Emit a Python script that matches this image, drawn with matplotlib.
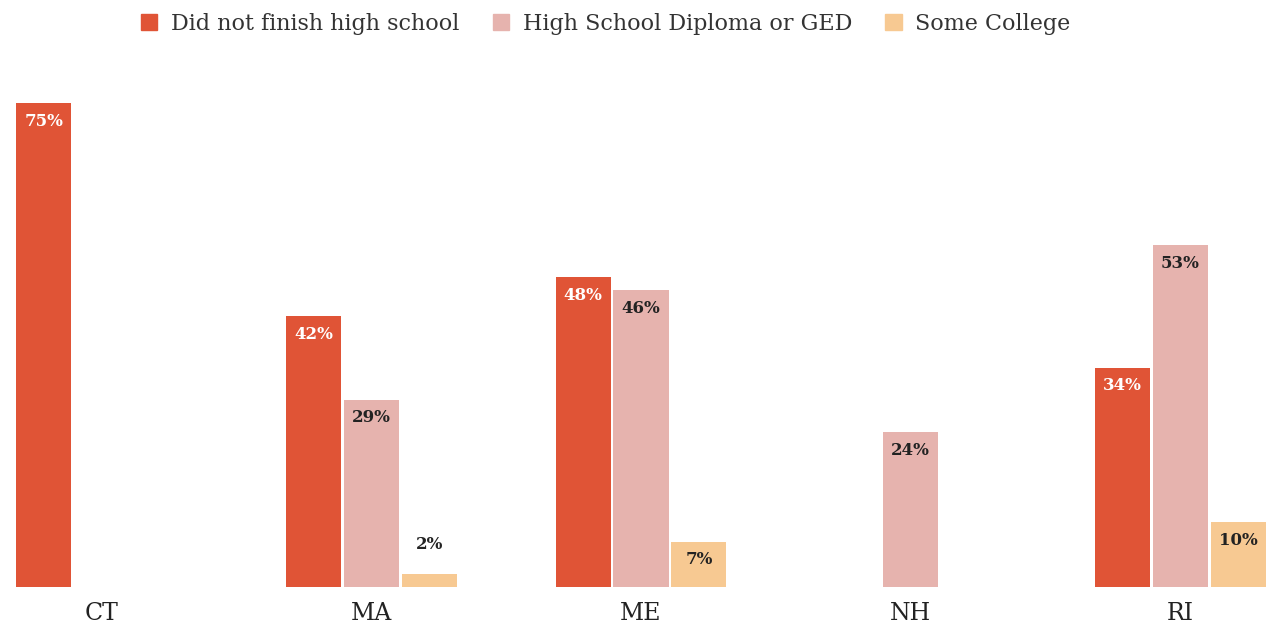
import numpy as np
import matplotlib.pyplot as plt
from matplotlib.patches import Patch

states = ["CT", "MA", "ME", "NH", "RI"]
series = ["Did not finish high school", "High School Diploma or GED", "Some College"]
did_not_finish = [75, 42, 48, None, 34]
hs_diploma = [None, 29, 46, 24, 53]
some_college = [None, 2, 7, None, 10]

colors = ["#E05436", "#E6B3AE", "#F7C992"]
label_colors = ["white", "#222222", "#222222"]

plt.rcParams['font.family'] = ['DejaVu Serif']

fig = plt.figure(figsize=(12.67, 6.27), dpi=100)
ax = fig.add_axes([15 / 1267, 40 / 627, 1252 / 1267, (587 - 103) / 627])

group_gap = 270 / 58
centers = np.arange(len(states)) * group_gap
width = 0.95

for j, vals in enumerate([did_not_finish, hs_diploma, some_college]):
    for i, v in enumerate(vals):
        if v is None:
            continue
        x = centers[i] + (j - 1)
        ax.bar(x, v, width=width, color=colors[j], linewidth=0)
        if v < 5:
            ax.annotate(f"{v}%", (x, v), xytext=(0, 21), textcoords="offset points",
                        ha="center", va="center", fontsize=12, fontweight="bold",
                        color="#222222")
        else:
            ax.annotate(f"{v}%", (x, v), xytext=(0, -13), textcoords="offset points",
                        ha="center", va="center", fontsize=12, fontweight="bold",
                        color=label_colors[j])

ax.set_xlim(centers[0] - 1.5, centers[-1] + 1.5)
ax.set_ylim(0, 75)
ax.set_xticks(centers)
ax.set_xticklabels(states, fontsize=17, color="#222222")
ax.tick_params(axis="x", length=0, pad=11)
ax.set_yticks([])
for s in ax.spines.values():
    s.set_visible(False)

handles = [Patch(color=c, label=l) for c, l in zip(colors, series)]
fig.legend(handles=handles, loc="center", bbox_to_anchor=(0.478, 0.962), ncol=3,
           frameon=False, fontsize=16, handlelength=0.75, handleheight=0.75,
           handletextpad=0.6, columnspacing=1.5, labelcolor="#333333")

fig.savefig("out.png", dpi=100)
